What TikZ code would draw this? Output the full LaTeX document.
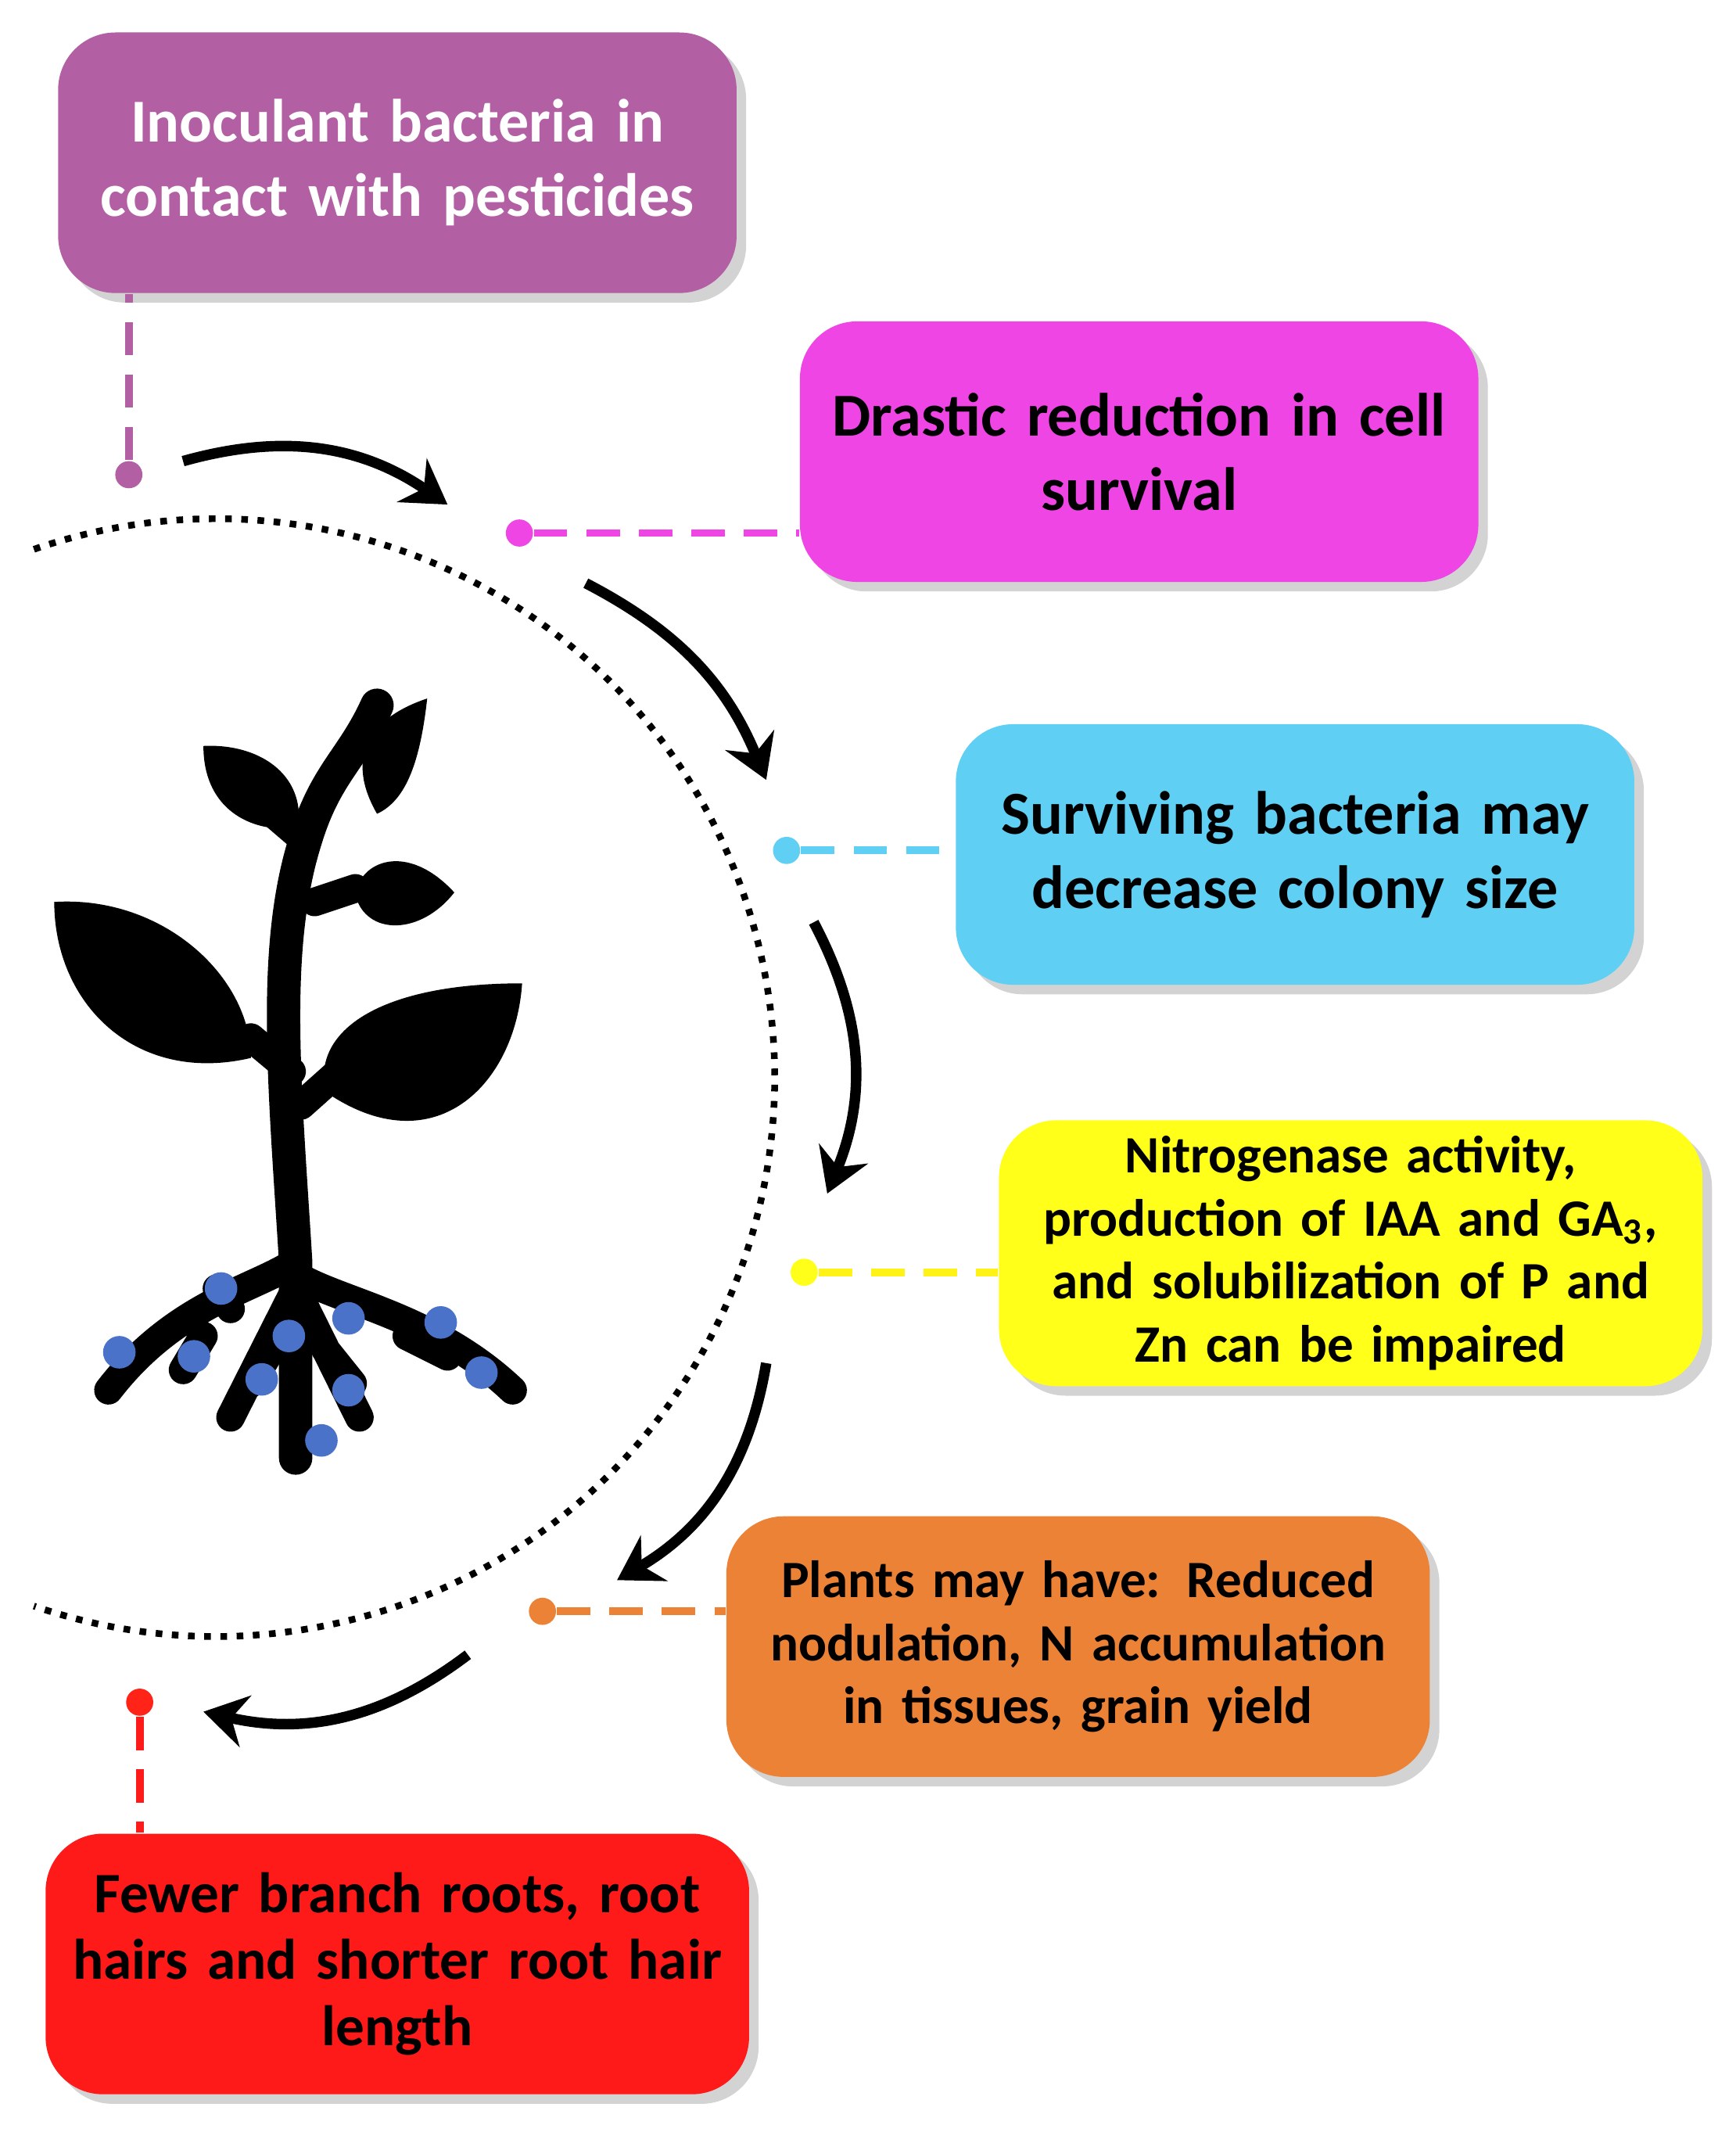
\documentclass[tikz,border=0pt]{standalone}
\usepackage{fontspec}
\setmainfont{Carlito}
\usetikzlibrary{shadows,arrows.meta}
\definecolor{cpurple}{HTML}{B25FA3}
\definecolor{cmagenta}{HTML}{EE45E4}
\definecolor{ccyan}{HTML}{5FD0F4}
\definecolor{cyellow}{HTML}{FFFF1A}
\definecolor{corange}{HTML}{EC8236}
\definecolor{cred}{HTML}{FF1A1A}
\definecolor{cdot}{HTML}{4A72C8}
\tikzset{
  box/.style={rectangle,rounded corners=12pt,minimum width=5.0cm,minimum height=1.92cm,
    text width=4.7cm,align=center,font=\bfseries\fontsize{12.8}{15.6}\selectfont,
    drop shadow={shadow xshift=2pt,shadow yshift=-2pt,opacity=.35}},
  smallbox/.style={box,text width=4.95cm,font=\bfseries\fontsize{11}{13.2}\selectfont},
  dot/.style={circle,inner sep=0pt,minimum size=0.2cm},
  link/.style={dashed,line width=1.6pt,dash pattern=on 7pt off 4pt},
  cyclearrow/.style={-{Stealth[length=9pt,width=11pt,inset=3pt]},line width=2.2pt,black}
}
\begin{document}
\hyphenpenalty=10000
\begin{tikzpicture}[x=0.01cm,y=-0.01cm]
\useasboundingbox (0,0) rectangle (1280,1580);
\node[box,fill=cpurple,text=white] (inoc) at (293,120) {Inoculant bacteria in contact with pesticides};
\node[box,fill=cmagenta] (surv) at (840,333) {Drastic reduction in cell\\ survival};
\node[box,fill=ccyan] (colony) at (955,630) {Surviving bacteria may decrease colony size};
\node[smallbox,fill=cyellow] (nitro) at (996,924) {Nitrogenase activity,\\ production of IAA and GA\textsubscript{3},\\ and solubilization of P and\\ Zn can be impaired};
\node[smallbox,fill=corange] (plants) at (795,1214) {Plants may have: Reduced nodulation, N accumulation in tissues, grain yield};
\node[box,fill=cred,text width=4.95cm,font=\bfseries\fontsize{12}{14}\selectfont] (roots) at (293,1448) {Fewer branch roots, root\\ hairs and shorter root hair\\ length};

\node[dot,fill=cpurple] (d1) at (95,350) {};
\node[dot,fill=cmagenta] (d2) at (383,393) {};
\node[dot,fill=ccyan] (d3) at (580,627) {};
\node[dot,fill=cyellow] (d4) at (593,938) {};
\node[dot,fill=corange] (d5) at (400,1188) {};
\node[dot,fill=cred!90!orange] (d6) at (103,1255) {};

\draw[link,cpurple] (d1) -- (d1 |- inoc.south);
\draw[link,cmagenta] (d2) -- (surv.west |- d2);
\draw[link,ccyan] (d3) -- (colony.west |- d3);
\draw[link,cyellow!90!orange] (d4) -- (nitro.west |- d4);
\draw[link,corange] (d5) -- (plants.west |- d5);
\draw[link,cred] (d6) -- (d6 |- roots.north);

\draw[dotted,line width=1.4pt] (25,405) arc[start angle=-109,end angle=109,radius=412];

\coordinate (a1) at (135,340); \coordinate (b1) at (330,372);
\coordinate (a2) at (432,430); \coordinate (b2) at (565,575);
\coordinate (a3) at (600,680); \coordinate (b3) at (610,880);
\coordinate (a4) at (565,1005); \coordinate (b4) at (455,1165);
\coordinate (a5) at (345,1220); \coordinate (b5) at (150,1262);
\draw[cyclearrow] (a1) to[bend left=25] (b1);
\draw[cyclearrow] (a2) to[bend left=20] (b2);
\draw[cyclearrow] (a3) to[bend left=25] (b3);
\draw[cyclearrow] (a4) to[bend left=25] (b4);
\draw[cyclearrow] (a5) to[bend left=25] (b5);

% plant
\begin{scope}[fill=black]
\draw[line width=7pt,line cap=round] (218,1075) -- (218,930) .. controls (210,800) and (200,700) .. (225,620) .. controls (240,570) and (260,560) .. (278,520);
\draw[line width=6pt,line cap=round] (215,790) -- (185,765) (222,815) -- (250,790) (225,620) -- (190,590) (232,665) -- (262,655);
\fill (278,600) .. controls (255,560) and (270,530) .. (315,515) .. controls (310,560) and (300,590) .. (278,600) -- cycle;
\fill (220,610) .. controls (190,615) and (150,600) .. (150,550) .. controls (190,548) and (225,570) .. (220,610) -- cycle;
\fill (262,660) .. controls (265,635) and (300,620) .. (335,658) .. controls (310,690) and (270,690) .. (262,660) -- cycle;
\fill (185,780) .. controls (185,720) and (120,660) .. (40,665) .. controls (40,740) and (100,800) .. (185,780) -- cycle;
\fill (240,805) .. controls (230,760) and (280,725) .. (385,725) .. controls (380,800) and (320,860) .. (240,805) -- cycle;
\draw[line width=6pt,line cap=round]
  (218,930) .. controls (190,950) and (130,960) .. (80,1025)
  (218,940) .. controls (250,960) and (320,970) .. (378,1025)
  (218,950) -- (170,1045) (218,950) -- (265,1045)
  (150,985) -- (135,1010) (300,985) -- (330,1000)
  (200,995) -- (185,1020) (240,995) -- (260,1020) (170,965) -- (160,950);
\end{scope}
\foreach \p in {(163,950),(88,997),(143,1000),(213,985),(257,972),(325,975),(355,1012),(193,1017),(257,1025),(237,1062)}
  \fill[cdot] \p circle (12);
\end{tikzpicture}
\end{document}
